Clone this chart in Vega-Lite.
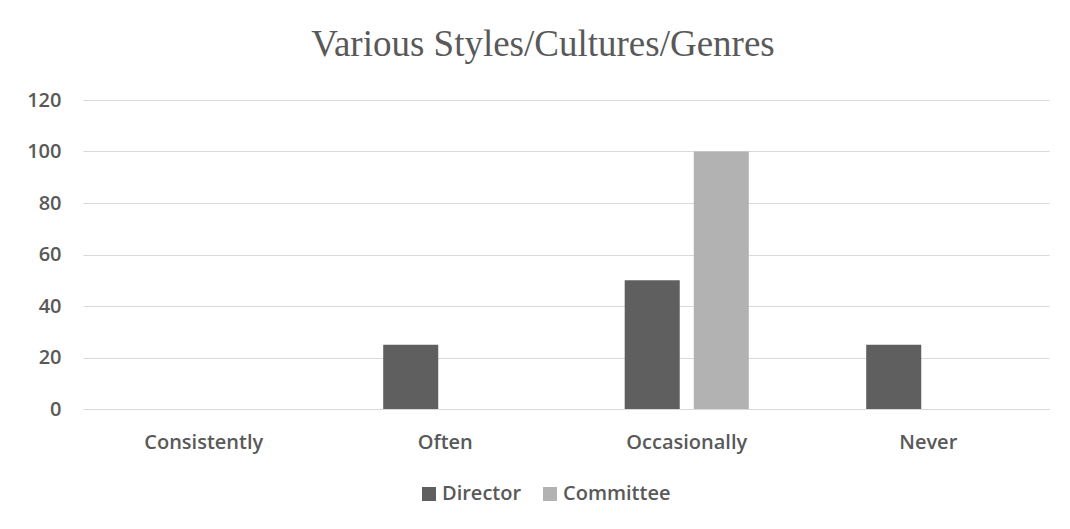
{
  "$schema": "https://vega.github.io/schema/vega-lite/v6.json",
  "width": 966,
  "height": 309,
  "autosize": {"type": "none"},
  "padding": {"left": 83, "top": 100, "right": 21, "bottom": 120},
  "background": "#ffffff",
  "title": {
    "text": "Various Styles/Cultures/Genres",
    "font": "Liberation Serif",
    "fontSize": 37,
    "fontWeight": "normal",
    "color": "#595959",
    "anchor": "middle",
    "baseline": "alphabetic",
    "offset": -3,
    "dx": -23
  },
  "data": {
    "values": [
      {"frequency": "Consistently", "group": "Director", "percent": 0},
      {"frequency": "Consistently", "group": "Committee", "percent": 0},
      {"frequency": "Often", "group": "Director", "percent": 25},
      {"frequency": "Often", "group": "Committee", "percent": 0},
      {"frequency": "Occasionally", "group": "Director", "percent": 50},
      {"frequency": "Occasionally", "group": "Committee", "percent": 100},
      {"frequency": "Never", "group": "Director", "percent": 25},
      {"frequency": "Never", "group": "Committee", "percent": 0}
    ]
  },
  "mark": {"type": "bar"},
  "encoding": {
    "x": {
      "field": "frequency",
      "type": "nominal",
      "sort": ["Consistently", "Often", "Occasionally", "Never"],
      "scale": {"paddingInner": 0, "paddingOuter": 0},
      "axis": {
        "title": null,
        "labelAngle": 0,
        "labelFont": "Open Sans",
        "labelFontSize": 20,
        "labelFontWeight": 600,
        "labelColor": "#595959",
        "labelPadding": 23,
        "ticks": false,
        "domainColor": "#d9d9d9",
        "domainWidth": 1,
        "grid": false
      }
    },
    "xOffset": {
      "field": "group",
      "type": "nominal",
      "sort": ["Director", "Committee"],
      "scale": {"paddingInner": 0.203, "paddingOuter": 0.85}
    },
    "y": {
      "field": "percent",
      "type": "quantitative",
      "scale": {"domain": [0, 120]},
      "axis": {
        "title": null,
        "values": [0, 20, 40, 60, 80, 100, 120],
        "labelFont": "Open Sans",
        "labelFontSize": 20,
        "labelFontWeight": 600,
        "labelColor": "#595959",
        "labelPadding": 22,
        "ticks": false,
        "domain": false,
        "gridColor": "#d9d9d9",
        "gridWidth": 1
      }
    },
    "color": {
      "field": "group",
      "type": "nominal",
      "sort": ["Director", "Committee"],
      "scale": {"domain": ["Director", "Committee"], "range": ["#5f5f5f", "#b2b2b2"]},
      "legend": {
        "title": null,
        "orient": "none",
        "direction": "horizontal",
        "legendX": 336,
        "legendY": 384,
        "symbolType": "square",
        "symbolSize": 196,
        "symbolStrokeWidth": 0,
        "symbolOpacity": 1,
        "labelFont": "Open Sans",
        "labelFontSize": 20,
        "labelFontWeight": 600,
        "labelColor": "#595959",
        "labelOffset": 3,
        "columnPadding": 18
      }
    }
  },
  "config": {
    "view": {"stroke": null}
  }
}
